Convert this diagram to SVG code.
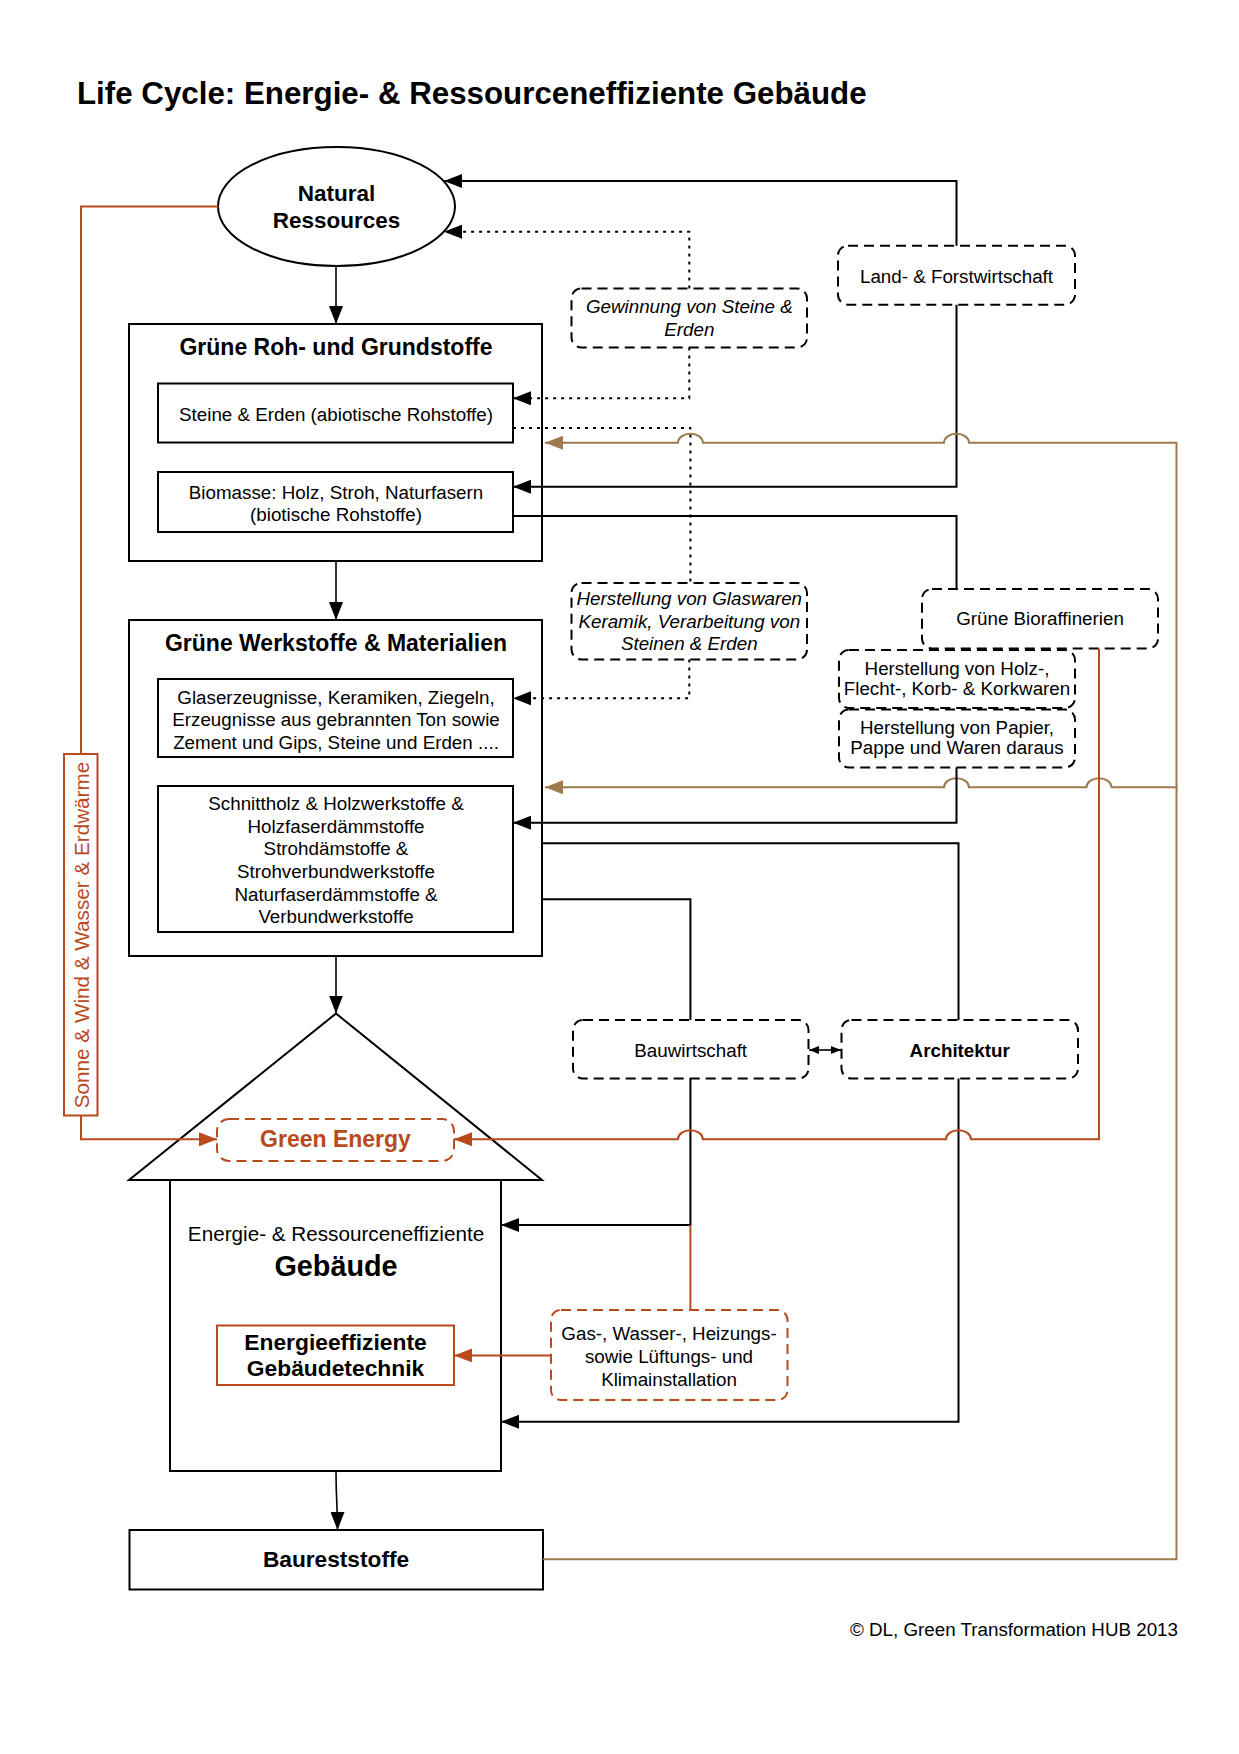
<svg xmlns="http://www.w3.org/2000/svg" width="1239" height="1754" viewBox="0 0 1239 1754">
<defs>
<style>
.box{fill:#fff;stroke:#000;stroke-width:2}
.dbox{fill:#fff;stroke:#000;stroke-width:2;stroke-dasharray:10 6}
.rbox{fill:#fff;stroke:#b84a1c;stroke-width:2;stroke-dasharray:10 6}
.rsolid{fill:#fff;stroke:#b84a1c;stroke-width:2}
.t{font-family:"Liberation Sans",Arial,Helvetica,sans-serif;font-size:18.8px;fill:#000;text-anchor:middle}
.i{font-style:italic}
.b{font-weight:bold}
.h{font-weight:bold;font-size:23px}
.r{fill:#b84a1c}
.c{fill:none;stroke:#000;stroke-width:2}
.v{fill:none;stroke:#000;stroke-width:1.6}
.dot{fill:none;stroke:#000;stroke-width:2;stroke-dasharray:3 5}
.tan{fill:none;stroke:#9e7b4f;stroke-width:2}
.rust{fill:none;stroke:#b84a1c;stroke-width:2}
</style>
<marker id="ab" viewBox="0 0 18 14" refX="18" refY="7" markerWidth="18" markerHeight="14" markerUnits="userSpaceOnUse" orient="auto"><path d="M0,0 L18,7 L0,14 z" fill="#000"/></marker>
<marker id="at" viewBox="0 0 18 14" refX="18" refY="7" markerWidth="18" markerHeight="14" markerUnits="userSpaceOnUse" orient="auto"><path d="M0,0 L18,7 L0,14 z" fill="#9e7b4f"/></marker>
<marker id="ar" viewBox="0 0 18 14" refX="18" refY="7" markerWidth="18" markerHeight="14" markerUnits="userSpaceOnUse" orient="auto"><path d="M0,0 L18,7 L0,14 z" fill="#b84a1c"/></marker>
<marker id="as" viewBox="0 0 10 8" refX="10" refY="4" markerWidth="10" markerHeight="8" markerUnits="userSpaceOnUse" orient="auto-start-reverse"><path d="M0,0 L10,4 L0,8 z" fill="#000"/></marker>
</defs>
<rect width="1239" height="1754" fill="#fff"/>
<text id="title" x="77" y="104" style="font-family:'Liberation Sans',Arial,sans-serif;font-size:31.3px;font-weight:bold">Life Cycle: Energie- &amp; Ressourceneffiziente Gebäude</text>

<g id="natural-ressources">
<ellipse cx="336.5" cy="206.5" rx="118.5" ry="59.5" class="box"/>
<text class="t b" style="font-size:22.5px" x="336.5" y="201">Natural</text>
<text class="t b" style="font-size:22.5px" x="336.5" y="228">Ressources</text>
</g>

<g id="gruene-roh">
<rect x="129" y="324" width="413" height="237" class="box"/>
<text class="t h" x="336" y="355">Grüne Roh- und Grundstoffe</text>
</g>
<g id="steine-erden">
<rect x="158" y="383.5" width="355" height="59" class="box"/>
<text class="t" x="336" y="421">Steine &amp; Erden (abiotische Rohstoffe)</text>
</g>
<g id="biomasse">
<rect x="158" y="472" width="355" height="60" class="box"/>
<text class="t" x="336" y="498.5">Biomasse: Holz, Stroh, Naturfasern</text>
<text class="t" x="336" y="521">(biotische Rohstoffe)</text>
</g>

<g id="gruene-werkstoffe">
<rect x="129" y="620" width="413" height="336" class="box"/>
<text class="t h" x="336" y="651">Grüne Werkstoffe &amp; Materialien</text>
</g>
<g id="glaserzeugnisse">
<rect x="158" y="679" width="355" height="78" class="box"/>
<text class="t" x="336" y="703.5">Glaserzeugnisse, Keramiken, Ziegeln,</text>
<text class="t" x="336" y="726">Erzeugnisse aus gebrannten Ton sowie</text>
<text class="t" x="336" y="748.5">Zement und Gips, Steine und Erden ....</text>
</g>
<g id="schnittholz">
<rect x="158" y="786" width="355" height="146" class="box"/>
<text class="t" x="336" y="810">Schnittholz &amp; Holzwerkstoffe &amp;</text>
<text class="t" x="336" y="832.5">Holzfaserdämmstoffe</text>
<text class="t" x="336" y="855">Strohdämstoffe &amp;</text>
<text class="t" x="336" y="878">Strohverbundwerkstoffe</text>
<text class="t" x="336" y="900.5">Naturfaserdämmstoffe &amp;</text>
<text class="t" x="336" y="923">Verbundwerkstoffe</text>
</g>

<g id="gebaeude">
<polygon points="129,1180 336,1013.5 542,1180" class="box"/>
<rect x="170" y="1180" width="331" height="291" class="box"/>
<text class="t" style="font-size:20.7px" x="336" y="1240.5">Energie- &amp; Ressourceneffiziente</text>
<text class="t b" style="font-size:28.8px" x="336" y="1276">Gebäude</text>
</g>
<g id="green-energy">
<rect x="217" y="1119" width="237" height="42" rx="12" class="rbox"/>
<text class="t b r" style="font-size:23px" x="335.5" y="1147">Green Energy</text>
</g>
<g id="gebaeudetechnik">
<rect x="217" y="1325.5" width="237" height="59.5" class="rsolid"/>
<text class="t b" style="font-size:22.8px" x="335.5" y="1349.5">Energieeffiziente</text>
<text class="t b" style="font-size:22.8px" x="335.5" y="1376">Gebäudetechnik</text>
</g>
<g id="baureststoffe">
<rect x="129.5" y="1530" width="413.5" height="59.5" class="box"/>
<text class="t b" style="font-size:22.7px" x="336" y="1567">Baureststoffe</text>
</g>

<g id="sonne">
<rect x="64" y="754" width="33.5" height="361.5" class="rsolid"/>
<text class="t r" style="font-size:20.7px" transform="translate(88.5,935) rotate(-90)" x="0" y="0">Sonne &amp; Wind &amp; Wasser &amp; Erdwärme</text>
</g>

<g id="land-forst">
<rect x="838" y="245.7" width="237" height="59" rx="10" class="dbox"/>
<text class="t" x="956.5" y="282.7">Land- &amp; Forstwirtschaft</text>
</g>
<g id="gewinnung">
<rect x="571.5" y="288.5" width="235.5" height="59" rx="10" class="dbox"/>
<text class="t i" x="689.3" y="313">Gewinnung von Steine &amp;</text>
<text class="t i" x="689.3" y="336">Erden</text>
</g>
<g id="glaswaren">
<rect x="571.5" y="583" width="235.5" height="76.5" rx="10" class="dbox"/>
<text class="t i" x="689.3" y="605">Herstellung von Glaswaren</text>
<text class="t i" x="689.3" y="628.3">Keramik, Verarbeitung von</text>
<text class="t i" x="689.3" y="650">Steinen &amp; Erden</text>
</g>
<g id="bioraffinerien">
<rect x="922" y="589" width="236" height="59.5" rx="10" class="dbox"/>
<text class="t" x="1040" y="625">Grüne Bioraffinerien</text>
</g>
<g id="holz">
<rect x="839" y="650" width="236" height="58" rx="10" class="dbox"/>
<text class="t" x="957" y="675">Herstellung von Holz-,</text>
<text class="t" x="957" y="695">Flecht-, Korb- &amp; Korkwaren</text>
</g>
<g id="papier">
<rect x="839" y="709.5" width="236" height="58" rx="10" class="dbox"/>
<text class="t" x="957" y="734">Herstellung von Papier,</text>
<text class="t" x="957" y="754">Pappe und Waren daraus</text>
</g>
<g id="bauwirtschaft">
<rect x="573" y="1020" width="235.5" height="58.5" rx="10" class="dbox"/>
<text class="t" x="690.7" y="1056.7">Bauwirtschaft</text>
</g>
<g id="architektur">
<rect x="841.5" y="1020" width="236.5" height="58.5" rx="10" class="dbox"/>
<text class="t b" x="959.7" y="1057">Architektur</text>
</g>
<g id="gas-wasser">
<rect x="551" y="1310" width="236.5" height="90" rx="10" class="rbox"/>
<text class="t" x="669" y="1340.4">Gas-, Wasser-, Heizungs-</text>
<text class="t" x="669" y="1363">sowie Lüftungs- und</text>
<text class="t" x="669" y="1385.7">Klimainstallation</text>
</g>

<g id="connectors">
<path class="v" d="M336,266 V324" marker-end="url(#ab)"/>
<path class="v" d="M336,561 V620" marker-end="url(#ab)"/>
<path class="v" d="M336,956 V1013.5" marker-end="url(#ab)"/>
<path class="v" d="M336,1471 C336,1500 337.5,1505 337.5,1530" marker-end="url(#ab)"/>
<path class="c" d="M956.5,245.7 V181 H444" marker-end="url(#ab)"/>
<path class="c" d="M956.5,304.7 V486.7 H513" marker-end="url(#ab)"/>
<path class="c" d="M513,516 H956.5 V589"/>
<path class="dot" d="M689.3,288.5 V231.7 H444" marker-end="url(#ab)"/>
<path class="dot" d="M689.3,347.5 V398.3 H513" marker-end="url(#ab)"/>
<path class="dot" d="M513,428 H690.4 V583"/>
<path class="dot" d="M689.3,659.5 V698.3 H513" marker-end="url(#ab)"/>
<path class="tan" d="M543,1559.3 H1176.5 V442.7 H969 A12.5 9 0 0 0 944 442.7 H702.9 A12.5 9 0 0 0 677.9 442.7 H545" marker-end="url(#at)"/>
<path class="tan" d="M1177.5,787.3 H1111.5 A12.5 9 0 0 0 1086.5 787.3 H969 A12.5 9 0 0 0 944 787.3 H545" marker-end="url(#at)"/>
<path class="c" d="M956.5,767.5 V822.7 H513" marker-end="url(#ab)"/>
<path class="c" d="M542,843.3 H958.5 V1020"/>
<path class="c" d="M542,899.3 H690.4 V1020"/>
<path class="c" d="M690.4,1078.5 V1225 H501" marker-end="url(#ab)"/>
<path class="rust" d="M690.4,1225 V1310"/>
<path class="c" d="M958.5,1078.5 V1421.8 H501" marker-end="url(#ab)"/>
<path class="c" style="stroke-width:1.6" d="M809,1050 H841" marker-start="url(#as)" marker-end="url(#as)"/>
<path class="rust" d="M1099,648.5 V1139.3 H971 A12.5 9 0 0 0 946 1139.3 H702.9 A12.5 9 0 0 0 677.9 1139.3 H454" marker-end="url(#ar)"/>
<path class="rust" d="M218,206.5 H81 V754"/>
<path class="rust" d="M81,1115.5 V1139.3 H217" marker-end="url(#ar)"/>
<path class="rust" d="M551,1355.4 H454" marker-end="url(#ar)"/>
</g>

<text id="copyright" class="t" style="text-anchor:end" x="1178" y="1636">© DL, Green Transformation HUB 2013</text>
</svg>
